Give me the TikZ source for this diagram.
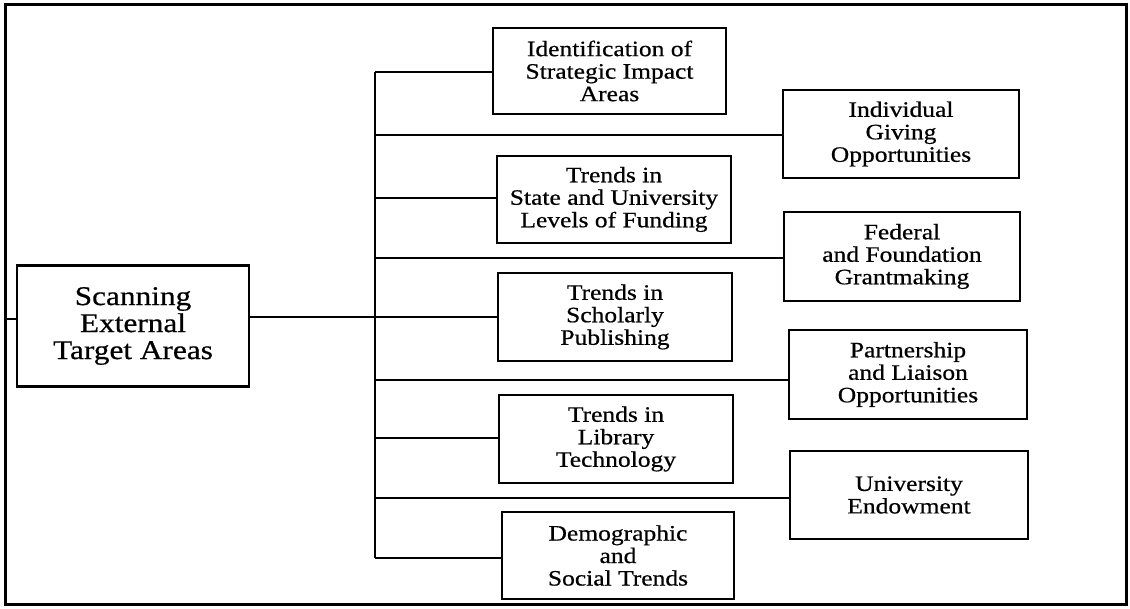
\documentclass[tikz,border=0pt]{standalone}
\usepackage{fontspec}
\setmainfont{Liberation Serif}[FakeStretch=1.16,FakeBold=0.6]
\usetikzlibrary{positioning}
\tikzset{font=\fontsize{22}{22.5}\selectfont}
\tikzset{every node/.append style={transform shape=false}}
\tikzset{area/.style={draw, line width=2.2pt, align=center, inner sep=0pt,
    minimum width=234pt, minimum height=87pt}}

\begin{document}
\begin{tikzpicture}[x=1pt,y=-1pt,line width=2.2pt]
\useasboundingbox (0,0) rectangle (1130,608);
\draw[line width=3pt] (5,4) rectangle (1126,604);

\node[area, minimum width=232pt, minimum height=121pt, font=\fontsize{27}{27}\selectfont] (scan) at (133,326) {Scanning\\External\\Target Areas};

% left column
\node[area, minimum width=233pt, minimum height=86pt] (ident) at (609.5,71) {Identification of\\Strategic Impact\\Areas};
\node[area] (state) at (614,199.5) {Trends in\\State and University\\Levels of Funding};
\node[area, minimum height=88pt] (schol) at (615,317) {Trends in\\Scholarly\\Publishing};
\node[area, minimum height=88pt] (libr) at (616,439) {Trends in\\Library\\Technology};
\node[area, minimum width=232pt] (demo) at (618,555.5) {Demographic\\and\\Social Trends};

% right column
\node[area, minimum width=236pt, minimum height=88pt] (indiv) at (901,134) {Individual\\Giving\\Opportunities};
\node[area, minimum width=236pt, minimum height=89pt] (fed) at (902,256.5) {Federal\\and Foundation\\Grantmaking};
\node[area, minimum width=238pt, minimum height=89pt] (partner) at (908,374.5) {Partnership\\and Liaison\\Opportunities};
\node[area, minimum width=238pt, minimum height=88pt] (endow) at (909,495) {University\\Endowment};

% spine and branches
\foreach \b/\y in {ident/72, indiv/135, state/198, fed/258, partner/380, libr/438, endow/498, demo/558}{
  \coordinate (s\b) at (375,\y);
  \draw (s\b) -- (s\b -| \b.west);
}
\draw (sident) -- (sdemo);
\draw (scan.east |- schol.west) -- (schol.west);
\coordinate (edge) at (5,319);
\draw (edge) -- (edge -| scan.west);
\end{tikzpicture}
\end{document}
